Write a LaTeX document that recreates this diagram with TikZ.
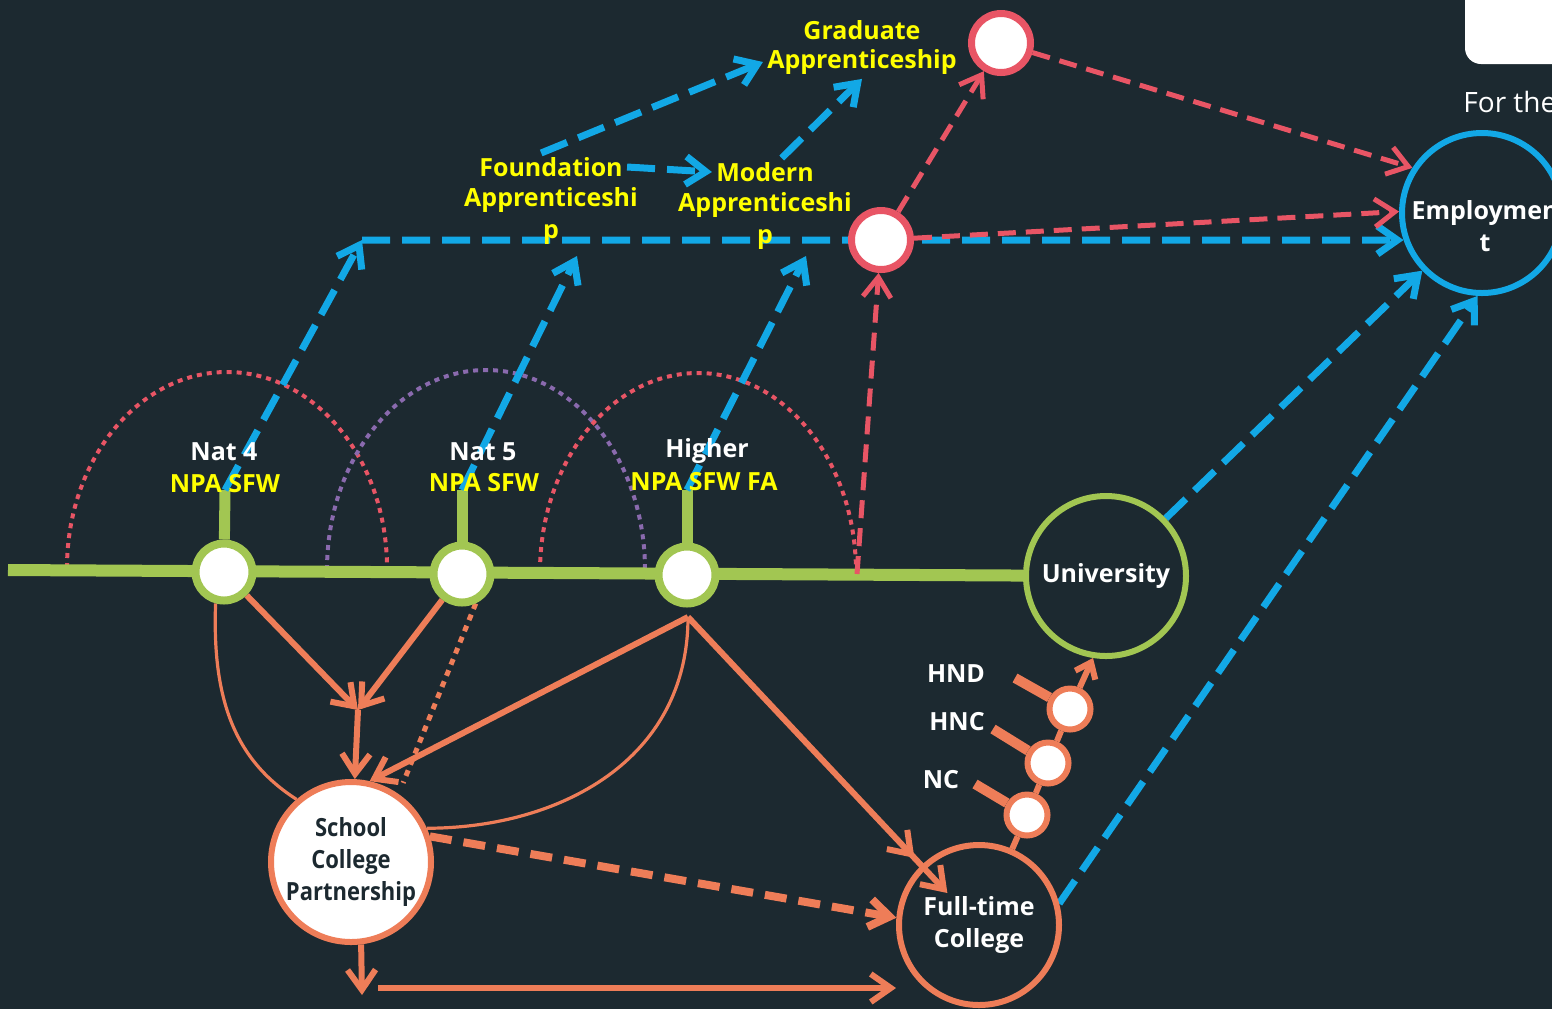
\documentclass[tikz,border=0pt]{standalone}
\usepackage{fontspec}
\setmainfont{Open Sans}
\newfontfamily\narrowfont{Open Sans}[FakeStretch=0.88]
\usetikzlibrary{arrows.meta,positioning,calc}
\definecolor{bgdark}{HTML}{1C2930}
\definecolor{lime}{HTML}{A2C652}
\definecolor{coral}{HTML}{EE7D58}
\definecolor{sky}{HTML}{12A8E6}
\definecolor{rose}{HTML}{E85565}
\definecolor{plum}{HTML}{8A6AAE}
\definecolor{lemon}{HTML}{FFFF00}
\pgfdeclarelayer{backdrop}
\pgfdeclarelayer{edges}
\pgfsetlayers{backdrop,edges,main}

\begin{document}
\begin{tikzpicture}[x=0.5pt, y=-0.5pt,
    every node/.style={font=\bfseries\fontsize{12.5}{16}\selectfont,
        text=white, align=center, inner sep=2pt},
    stage/.style={circle, draw=lime, line width=4pt, fill=white,
        minimum size=28.5pt, inner sep=0pt},
    route/.style={circle, draw=rose, line width=3.5pt, fill=white,
        minimum size=29.5pt, inner sep=0pt},
    award/.style={circle, draw=coral, line width=3pt, fill=white,
        minimum size=20.5pt, inner sep=0pt},
    dest/.style={circle, line width=3pt, minimum size=80pt, inner sep=0pt},
    tag/.style={text=lemon},
    barb/.style={-{Straight Barb[length=10pt, width=14pt]}},
    bluedash/.style={barb, draw=sky, line width=3.5pt, dash pattern=on 14pt off 6pt},
    reddash/.style={barb, draw=rose, line width=2.5pt, dash pattern=on 9pt off 5pt},
    arcdot/.style={line width=2pt, dash pattern=on 2.5pt off 2.5pt},
    flow/.style={barb, draw=coral, line width=3pt},
    thinflow/.style={draw=coral, line width=1.6pt},
]
\useasboundingbox (0,0) rectangle (1552,1009);

\begin{pgfonlayer}{backdrop}
\fill[bgdark] (0,0) rectangle (1552,1009);
\fill[white, rounded corners=8pt] (1465,-30) rectangle (1600,64);
\end{pgfonlayer}

% Stages on the school line
\node[stage] (n4) at (224,572) {};
\node[stage] (n5) at (462,574) {};
\node[stage] (hi) at (687,575) {};
\node (n4name) at (224,452) {Nat 4};
\node[tag] (n4npa) at (225,484) {NPA SFW};
\node (n5name) at (483,452) {Nat 5};
\node[tag] (n5npa) at (484,483) {NPA SFW};
\node (hiname) at (707,451) {Higher};
\node[tag] (hinpa) at (704,482) {NPA SFW FA};

% Destinations
\node[dest, draw=lime] (uni) at (1106,576) {University};
\node[dest, draw=sky] (emp) at (1482,213) {};
\node (empname) at (1485,226) {Employmen\\t};
\node[dest, draw=coral, fill=white, text=bgdark,
    font=\narrowfont\bfseries\fontsize{12.5}{16}\selectfont] (scp) at (351,862)
    {School\\College\\Partnership};
\node[dest, draw=coral] (ft) at (979,925) {Full-time\\College};
\node[route] (r1) at (1001,43) {};
\node[route] (r2) at (881,240) {};

% Apprenticeships
\node[tag] (fa) at (551,167) {Foundation};
\node[tag] (fa2) at (551,216) {Apprenticeshi\\p};
\node[tag] (ma) at (765,172) {Modern};
\node[tag] (ma2) at (765,221) {Apprenticeshi\\p};
\node[tag] (ga) at (862,30) {Graduate};
\node[tag] (ga2) at (862,62) {Apprenticeship};

% College awards
\node[award] (hnd) at (1070,709) {};
\node[award] (hnc) at (1048,763) {};
\node[award] (nc) at (1027,815) {};
\node (hndname) at (956,674) {HND};
\node (hncname) at (957,722) {HNC};
\node (ncname) at (941,780) {NC};

\node[font=\fontsize{14}{16}\selectfont, anchor=west] (forthe) at (1459,102) {For the};

\coordinate (lineL) at (8,570);
\coordinate (n4top) at (225,490);
\coordinate (n5top) at (462,490);
\coordinate (hitop) at (687,490);
\coordinate (corner) at (362,240);
\coordinate (n5arrow) at (577,256);
\coordinate (hiarrow) at (806,256);
\coordinate (hiend) at (857,574);
\coordinate (junc) at (358,710);
\coordinate (hifork) at (688,617);
\coordinate (scpdrop) at (362,995);
\coordinate (sidestart) at (378,988);
\coordinate (hndtail) at (1015,678);
\coordinate (hnctail) at (993,729);
\coordinate (nctail) at (975,784);

\begin{pgfonlayer}{edges}
% Dotted spans
\draw[arcdot, draw=rose] (67,568) arc[start angle=180, end angle=0, x radius=80pt, y radius=98pt];
\draw[arcdot, draw=plum] (327,570) arc[start angle=180, end angle=0, x radius=79.5pt, y radius=100pt];
\draw[arcdot, draw=rose] (540,572) arc[start angle=180, end angle=0, x radius=79pt, y radius=99.5pt];

% School line
\draw[lime, line width=6pt] (lineL) -- (uni);
\draw[lime, line width=5.5pt] (n4top) -- (n4);
\draw[lime, line width=5.5pt] (n5top) -- (n5);
\draw[lime, line width=5.5pt] (hitop) -- (hi);

% Apprenticeship routes
\draw[bluedash] (n4top) -- (corner);
\draw[bluedash] (corner) -- (emp.199);
\draw[bluedash] (n5top) -- (n5arrow);
\draw[bluedash] (hitop) -- (hiarrow);
\draw[bluedash] (fa.east) -- (ma.west);
\draw[bluedash] (fa.125) -- (ga2.west);
\draw[bluedash] (ma.40) -- (ga2.south);
\draw[bluedash] (uni) -- (emp.224);
\draw[bluedash] (ft.15) -- (emp.267);

\draw[reddash] (hiend) -- (r2);
\draw[reddash] (r2) -- (r1);
\draw[reddash] (r1) -- (emp.147);
\draw[reddash] (r2) -- (emp.179);

% College routes
\draw[thinflow] (n4.255) .. controls (212,700) and (235,760) .. (scp.131);
\draw[thinflow] (hifork) .. controls (688,760) and (560,828) .. (scp.24);
\draw[coral, line width=2.5pt, dash pattern=on 3pt off 3pt, shorten >=6pt] (n5.295) -- (scp.55);
\draw[flow] (n4) -- (junc);
\draw[flow] (n5) -- (junc);
\draw[flow] (junc) -- (scp);
\draw[flow] (hifork) -- (scp.77);
\draw[flow, shorten >=-19pt,
    -{Straight Barb[length=10pt, width=14pt, sep=10pt] Straight Barb[length=10pt, width=14pt]}]
    (hifork) -- (ft.134);
\draw[flow, line width=4pt, dash pattern=on 11pt off 6pt] (scp.18) -- (ft.175);
\draw[flow] (scp.277) -- (scpdrop);
\draw[flow] (sidestart) -- (sidestart -| ft.west);

% Awards chain
\draw[coral, line width=3pt] (ft) -- (nc);
\draw[coral, line width=3pt] (nc) -- (hnc);
\draw[coral, line width=3pt] (hnc) -- (hnd);
\draw[flow, -{Straight Barb[length=7pt, width=11pt]}] (hnd) -- (uni.261);
\draw[coral, line width=5pt] (hndtail) -- (hnd);
\draw[coral, line width=5pt] (hnctail) -- (hnc);
\draw[coral, line width=5pt] (nctail) -- (nc);
\end{pgfonlayer}

\end{tikzpicture}
\end{document}
